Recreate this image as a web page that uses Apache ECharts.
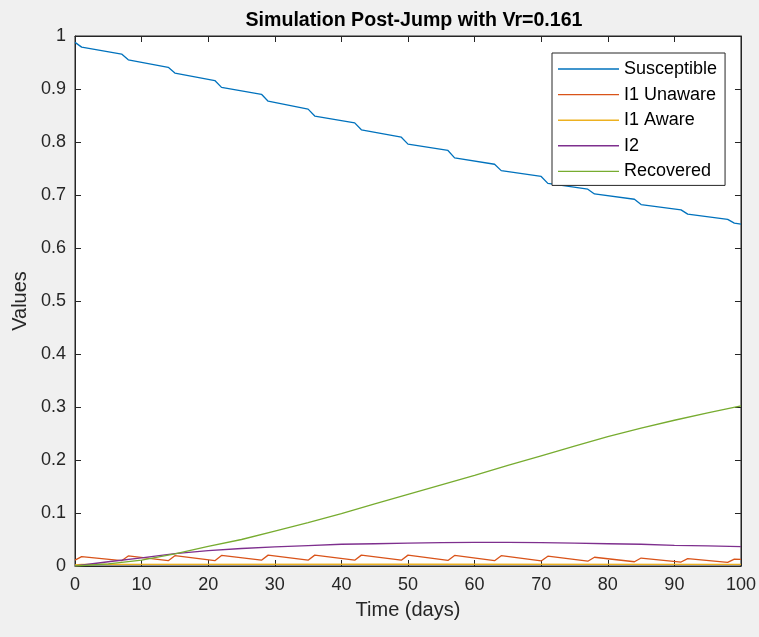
<!DOCTYPE html>
<html>
<head>
<meta charset="utf-8">
<script src="https://cdn.jsdelivr.net/npm/echarts@6/dist/echarts.min.js"></script>
<style>html,body{margin:0;padding:0;background:#f0f0f0;}#c{width:759px;height:637px;}</style>
</head>
<body>
<div id="c"></div>
<script>
// ---- data ----
const seriesNames = ['Susceptible', 'I1 Unaware', 'I1 Aware', 'I2', 'Recovered'];
const jumpT = [0,1,7,8,14,15,21,22,28,29,35,36,42,43,49,50,56,57,63,64,70,71,77,78,84,85,91,92,98,99,100];
const susceptibleV = [0.988,0.979,0.966,0.955,0.941,0.930,0.916,0.903,0.890,0.877,0.862,0.849,0.836,0.823,0.809,0.796,0.784,0.770,0.758,0.746,0.735,0.722,0.711,0.702,0.692,0.682,0.672,0.664,0.654,0.647,0.645];
const unawareV = [0.011,0.0176,0.010,0.019,0.010,0.0195,0.010,0.020,0.011,0.0205,0.011,0.0205,0.011,0.0205,0.011,0.0205,0.0105,0.020,0.010,0.0195,0.0095,0.0185,0.009,0.0165,0.008,0.015,0.0075,0.014,0.007,0.013,0.0125];
const awareT = [0,1,50,100];
const awareV = [0.002,0.003,0.0035,0.003];
const smoothT = [0,5,10,15,20,25,30,35,40,45,50,55,60,65,70,75,80,85,90,95,100];
const i2V = [0,0.008,0.0155,0.0235,0.029,0.033,0.036,0.0385,0.041,0.042,0.043,0.044,0.0447,0.0447,0.044,0.043,0.042,0.041,0.039,0.038,0.0365];
const recoveredV = [0,0.004,0.011,0.023,0.037,0.050,0.066,0.082,0.099,0.117,0.135,0.153,0.171,0.190,0.208,0.226,0.244,0.260,0.275,0.289,0.302];
const xTicks = {min: 0, max: 100, interval: 10};
const yTicks = {min: 0, max: 1, interval: 0.1};

const colors = ['#0072BD', '#D95319', '#EDB120', '#7E2F8E', '#77AC30'];
const pairs = (t, v) => t.map((x, i) => [x, v[i]]);
const seriesData = [
  pairs(jumpT, susceptibleV),
  pairs(jumpT, unawareV),
  pairs(awareT, awareV),
  pairs(smoothT, i2V),
  pairs(smoothT, recoveredV)
];

const FONT = "'Liberation Sans', Arial, Helvetica, sans-serif";
const TXT = '#262626';

const chart = echarts.init(document.getElementById('c'), null, {renderer: 'canvas'});
const baseAxis = {
  axisLine: {show: true, onZero: false, lineStyle: {color: TXT, width: 1}},
  axisTick: {show: true, inside: true, length: 6, lineStyle: {color: TXT, width: 1}},
  splitLine: {show: false}
};
chart.setOption({
  backgroundColor: '#f0f0f0',
  animation: false,
  color: colors,
  title: {
    text: 'Simulation Post-Jump with Vr=0.161',
    left: 409, top: 6, textAlign: 'center',
    textStyle: {fontFamily: FONT, fontSize: 19.6, fontWeight: 'bold', color: '#000'}
  },
  grid: {left: 75, right: 17, top: 36, bottom: 71, show: true, backgroundColor: '#fff', borderColor: TXT, borderWidth: 1},
  legend: {
    orient: 'vertical', left: 552, top: 53,
    data: seriesNames.map(n => ({name: n, icon: 'rect'})),
    itemWidth: 61, itemHeight: 1.4, itemGap: 7.6,
    padding: [7, 8, 5, 6],
    backgroundColor: '#fff', borderColor: TXT, borderWidth: 1, borderRadius: 0,
    textStyle: {fontFamily: FONT, fontSize: 18, color: '#000', lineHeight: 18, height: 18}
  },
  xAxis: [
    Object.assign({}, baseAxis, {
      type: 'value', position: 'bottom', min: xTicks.min, max: xTicks.max, interval: xTicks.interval,
      name: 'Time (days)', nameLocation: 'middle', nameGap: 34,
      nameTextStyle: {fontFamily: FONT, fontSize: 20, color: TXT},
      axisLabel: {fontFamily: FONT, fontSize: 18, color: TXT, margin: 10}
    }),
    Object.assign({}, baseAxis, {
      type: 'value', position: 'top', min: xTicks.min, max: xTicks.max, interval: xTicks.interval,
      axisLabel: {show: false}
    })
  ],
  yAxis: [
    Object.assign({}, baseAxis, {
      type: 'value', position: 'left', min: yTicks.min, max: yTicks.max, interval: yTicks.interval,
      name: 'Values', nameLocation: 'middle', nameGap: 45,
      nameTextStyle: {fontFamily: FONT, fontSize: 20, color: TXT},
      axisLabel: {fontFamily: FONT, fontSize: 18, color: TXT, margin: 9,
        formatter: v => String(Math.round(v * 10) / 10)}
    }),
    Object.assign({}, baseAxis, {
      type: 'value', position: 'right', min: yTicks.min, max: yTicks.max, interval: yTicks.interval,
      axisLabel: {show: false}
    })
  ],
  series: seriesNames.map((n, i) => ({
    name: n, type: 'line', data: seriesData[i],
    xAxisIndex: 0, yAxisIndex: 0,
    symbol: 'none', showSymbol: false,
    lineStyle: {width: 1.3, color: colors[i]},
    itemStyle: {color: colors[i]}
  }))
});
</script>
</body>
</html>
